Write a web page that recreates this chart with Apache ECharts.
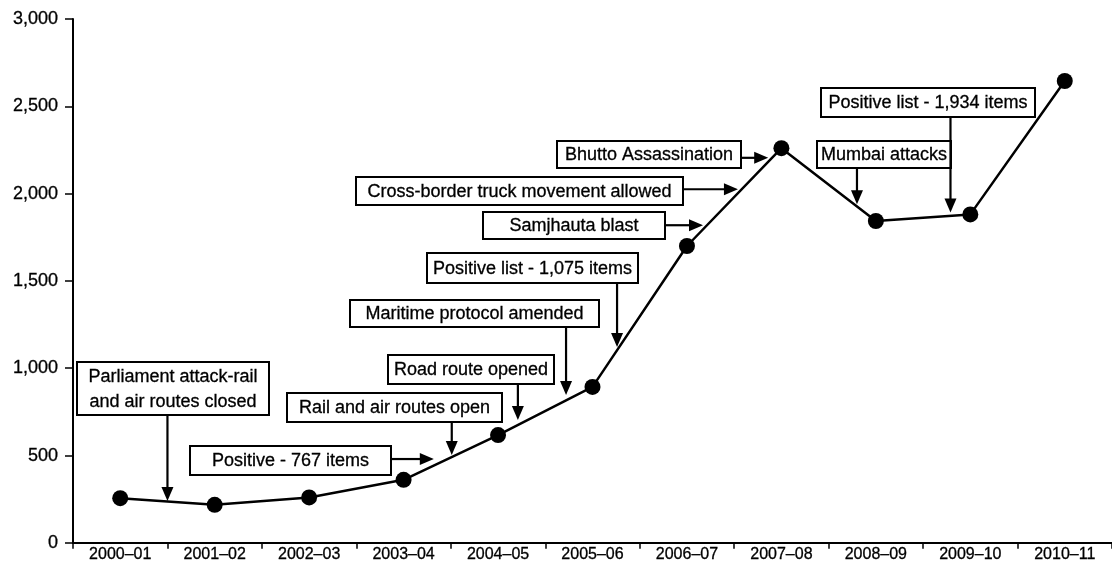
<!DOCTYPE html>
<html>
<head>
<meta charset="utf-8">
<script src="https://cdn.jsdelivr.net/npm/echarts@6/dist/echarts.min.js"></script>
<style>
  html, body { margin: 0; padding: 0; background: #fff; }
  #chart { width: 1112px; height: 563px; }
</style>
</head>
<body>
<div id="chart"></div>
<script>
// Fiscal years on the category axis
const years = ['2000–01', '2001–02', '2002–03', '2003–04', '2004–05', '2005–06',
               '2006–07', '2007–08', '2008–09', '2009–10', '2010–11'];

// Bilateral trade, by year
const tradeValues = [256, 218, 260, 361, 617, 893, 1700, 2260, 1843, 1881, 2645];

// Value-axis ticks
const yMin = 0;
const yMax = 3000;
const yStep = 500;

// Events: label lines, and the point on the trade line each one refers to
// (category position, where 0 is the first year's centre, and value)
const eventLabels = [
  ['Parliament attack-rail', 'and air routes closed'],
  ['Positive - 767 items'],
  ['Rail and air routes open'],
  ['Road route opened'],
  ['Maritime protocol amended'],
  ['Positive list - 1,075 items'],
  ['Samjhauta blast'],
  ['Cross-border truck movement allowed'],
  ['Bhutto Assassination'],
  ['Mumbai attacks'],
  ['Positive list - 1,934 items']
];
const eventCategoryPos = [0.5, 3.32, 3.51, 4.21, 4.72, 5.26, 6.17, 6.54, 6.86, 7.80, 8.79];
const eventValues = [240, 480, 503, 703, 846, 1122, 1819, 2025, 2205, 1939, 1892];

// Callout layout: box left, top, width, height (px) and the side the arrow leaves from
const calloutLayout = [
  [77, 362, 192, 53, 'down'],
  [190, 446, 201, 29, 'right'],
  [287, 393, 215, 29, 'down'],
  [388, 355, 166, 29, 'down'],
  [350, 300, 249, 27, 'down'],
  [427, 253, 211, 30, 'down'],
  [483, 212, 182, 27, 'right'],
  [356, 177, 327, 28, 'right'],
  [557, 141, 184, 27, 'right'],
  [817, 141, 134, 27, 'down'],
  [821, 88, 214, 29, 'down']
];

const FONT = '"Liberation Sans", Arial, Helvetica, sans-serif';

const chart = echarts.init(document.getElementById('chart'), null, { renderer: 'canvas' });

chart.setOption({
  animation: false,
  backgroundColor: '#fff',
  grid: { left: 73, top: 19, width: 1047, height: 525, containLabel: false },
  xAxis: {
    type: 'category',
    data: years,
    boundaryGap: true,
    axisLine: { lineStyle: { color: '#000', width: 2 } },
    axisTick: { show: true, length: 6, lineStyle: { color: '#000', width: 1.5 } },
    axisLabel: {
      color: '#000', fontSize: 16, fontFamily: FONT, margin: 4,
      textBorderColor: '#000', textBorderWidth: 0.3
    },
    splitLine: { show: false }
  },
  yAxis: {
    type: 'value',
    min: yMin,
    max: yMax,
    interval: yStep,
    axisLine: { show: true, lineStyle: { color: '#000', width: 2 } },
    axisTick: { show: true, length: 8, lineStyle: { color: '#000', width: 1.5 } },
    axisLabel: {
      color: '#000', fontSize: 18, fontFamily: FONT, margin: 15,
      textBorderColor: '#000', textBorderWidth: 0.3,
      formatter: v => v.toLocaleString('en-US')
    },
    splitLine: { show: false }
  },
  series: [{
    type: 'line',
    data: tradeValues,
    symbol: 'circle',
    symbolSize: 16,
    lineStyle: { color: '#000', width: 2.5 },
    itemStyle: { color: '#000' },
    z: 3
  }]
});

// Pixel helpers built on the chart's own axes
const x0 = chart.convertToPixel({ xAxisIndex: 0 }, years[0]);
const x1 = chart.convertToPixel({ xAxisIndex: 0 }, years[1]);
const catX = pos => x0 + (x1 - x0) * pos;
const valY = v => chart.convertToPixel({ yAxisIndex: 0 }, v);

const graphics = [];
const HEAD_LEN = 14;
const HEAD_HALF = 6;

eventLabels.forEach((lines, i) => {
  const [left, top, w, h, side] = calloutLayout[i];
  const tx = catX(eventCategoryPos[i]);
  const ty = valY(eventValues[i]);

  graphics.push({
    type: 'rect',
    shape: { x: left, y: top, width: w, height: h },
    style: { fill: '#fff', stroke: '#000', lineWidth: 2 },
    z: 10
  });
  graphics.push({
    type: 'text',
    x: left + w / 2,
    y: top + h / 2 + 1,
    style: {
      text: lines.join('\n'),
      align: 'center',
      verticalAlign: 'middle',
      fontSize: 18,
      fontFamily: FONT,
      lineHeight: 25,
      fill: '#000',
      stroke: '#000',
      lineWidth: 0.3
    },
    z: 11
  });

  if (side === 'down') {
    graphics.push({
      type: 'line',
      shape: { x1: tx, y1: top + h, x2: tx, y2: ty - HEAD_LEN + 1 },
      style: { stroke: '#000', lineWidth: 2.2 },
      z: 10
    });
    graphics.push({
      type: 'polygon',
      shape: { points: [[tx, ty], [tx - HEAD_HALF, ty - HEAD_LEN], [tx + HEAD_HALF, ty - HEAD_LEN]] },
      style: { fill: '#000' },
      z: 10
    });
  } else {
    graphics.push({
      type: 'line',
      shape: { x1: left + w, y1: ty, x2: tx - HEAD_LEN + 1, y2: ty },
      style: { stroke: '#000', lineWidth: 2.2 },
      z: 10
    });
    graphics.push({
      type: 'polygon',
      shape: { points: [[tx, ty], [tx - HEAD_LEN, ty - HEAD_HALF], [tx - HEAD_LEN, ty + HEAD_HALF]] },
      style: { fill: '#000' },
      z: 10
    });
  }
});

chart.setOption({ graphic: { elements: graphics } });
</script>
</body>
</html>
